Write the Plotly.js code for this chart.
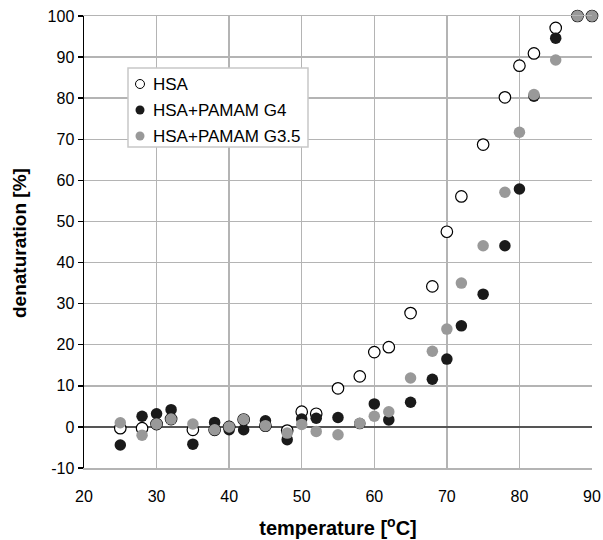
<!DOCTYPE html>
<html>
<head>
<meta charset="utf-8">
<script src="https://cdn.plot.ly/plotly-3.0.1.min.js"></script>
<style>html,body{margin:0;padding:0;background:#fff;}#chart{width:603px;height:540px;}</style>
</head>
<body>
<div id="chart"></div>
<script>
const temperature = [25, 28, 30, 32, 35, 38, 40, 42, 45, 48, 50, 52, 55, 58, 60, 62, 65, 68, 70, 72, 75, 78, 80, 82, 85, 88, 90];
const hsa      = [-0.3, -0.3, 0.7, 1.9, -0.7, -0.7, 0, 1.8, 0.3, -0.9, 3.7, 3.2, 9.4, 12.3, 18.2, 19.4, 27.7, 34.2, 47.5, 56.1, 68.7, 80.2, 87.9, 90.9, 97.1, 100, 100];
const hsaG4    = [-4.4, 2.6, 3.2, 4.2, -4.2, 1.1, -0.7, -0.7, 1.5, -3.1, 1.9, 2.1, 2.3, 0.8, 5.6, 1.7, 6.0, 11.6, 16.5, 24.6, 32.3, 44.1, 57.9, 80.5, 94.6, 100, 100];
const hsaG35   = [1.0, -2.0, 0.7, 1.9, 0.7, -0.7, 0, 1.8, 0.3, -1.5, 0.6, -1.1, -1.9, 0.9, 2.6, 3.7, 11.9, 18.4, 23.8, 35.0, 44.1, 57.1, 71.7, 80.9, 89.3, 100, 100];
const seriesNames = ['HSA', 'HSA+PAMAM G4', 'HSA+PAMAM G3.5'];
const xTicks = [20, 30, 40, 50, 60, 70, 80, 90];
const yTicks = [-10, 0, 10, 20, 30, 40, 50, 60, 70, 80, 90, 100];
const xTitle = '<b>temperature [<sup>o</sup>C]</b>';
const yTitle = '<b>denaturation [%]</b>';

const FONT = '"Liberation Sans", Arial, sans-serif';
const styles = [
  {color: '#ffffff', line: {color: '#000000', width: 1.2}},
  {color: '#1a1a1a', line: {color: '#1a1a1a', width: 0}},
  {color: '#999999', line: {color: '#999999', width: 0}}
];
const values = [hsa, hsaG4, hsaG35];

const traces = values.map((v, i) => ({
  x: temperature, y: v, type: 'scatter', mode: 'markers',
  name: seriesNames[i], showlegend: false,
  marker: {size: 11.5, color: styles[i].color, line: styles[i].line},
  cliponaxis: false
}));

// custom legend (box, symbols, labels) in paper coordinates
const plotL = 84, plotR = 592, plotT = 16, plotB = 468;
const px2x = p => (p - plotL) / (plotR - plotL);
const py2y = p => (plotB - p) / (plotB - plotT);
const shapes = [{
  type: 'rect', xref: 'paper', yref: 'paper',
  x0: px2x(128), x1: px2x(308), y0: py2y(147), y1: py2y(68),
  fillcolor: '#ffffff', line: {color: '#c8c8c8', width: 1.5}, layer: 'above'
}];
const annotations = [];
const rows = [84, 110, 136];
seriesNames.forEach((nm, i) => {
  const cy = rows[i], cx = 140, r = 4.5;
  shapes.push({
    type: 'circle', xref: 'paper', yref: 'paper', layer: 'above',
    x0: px2x(cx - r), x1: px2x(cx + r), y0: py2y(cy + r), y1: py2y(cy - r),
    fillcolor: styles[i].color,
    line: {color: i === 0 ? '#000' : styles[i].color, width: i === 0 ? 1 : 0}
  });
  annotations.push({
    xref: 'paper', yref: 'paper', x: px2x(151), y: py2y(cy),
    xanchor: 'left', yanchor: 'middle', showarrow: false, text: nm,
    font: {family: FONT, size: 17, color: '#000'}
  });
});
// y-axis title placed as rotated annotation
annotations.push({
  xref: 'paper', yref: 'paper', x: px2x(19), y: py2y(243),
  xanchor: 'center', yanchor: 'middle', showarrow: false, textangle: -90,
  text: yTitle, font: {family: FONT, size: 19, color: '#000'}
});

const layout = {
  width: 603, height: 540,
  margin: {l: 84, r: 11, t: 16, b: 72},
  paper_bgcolor: '#ffffff', plot_bgcolor: '#ffffff',
  font: {family: FONT, size: 15, color: '#000'},
  showlegend: false,
  shapes: shapes, annotations: annotations,
  xaxis: {
    range: [20, 90], tickvals: xTicks, ticktext: xTicks.map(String),
    showgrid: true, gridcolor: '#b4b4b4', gridwidth: 1.5,
    showline: true, mirror: true, linecolor: '#b4b4b4', linewidth: 1.5,
    zeroline: false, ticks: 'outside', ticklen: 13, tickcolor: 'rgba(0,0,0,0)',
    tickfont: {family: FONT, size: 16, color: '#000'},
    title: {text: xTitle, font: {family: FONT, size: 20, color: '#000'}, standoff: 17},
    automargin: false, fixedrange: true
  },
  yaxis: {
    range: [-10, 100], tickvals: yTicks, ticktext: yTicks.map(String),
    showgrid: true, gridcolor: '#b4b4b4', gridwidth: 1.5,
    showline: true, linecolor: '#000', linewidth: 1.5,
    zeroline: true, zerolinecolor: '#555', zerolinewidth: 1.5,
    ticks: 'outside', ticklen: 5, tickcolor: '#000', tickwidth: 1.5,
    tickfont: {family: FONT, size: 16, color: '#000'},
    automargin: false, fixedrange: true
  }
};

Plotly.newPlot('chart', traces, layout, {displayModeBar: false, staticPlot: true});
</script>
</body>
</html>
